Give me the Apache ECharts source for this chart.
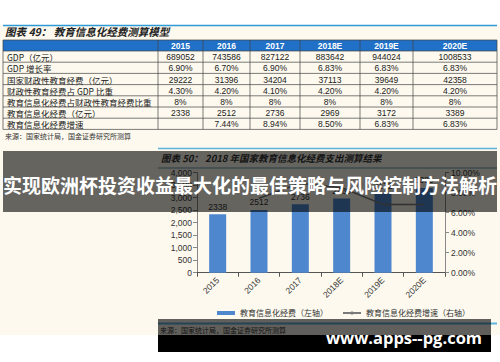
<!DOCTYPE html>
<html><head><meta charset="utf-8">
<script src="https://cdn.jsdelivr.net/npm/echarts@6/dist/echarts.min.js"></script>
<style>html,body{margin:0;padding:0;background:#fff}#c{width:500px;height:362px}</style>
</head><body><div id="c"></div>
<script>
// ---- data ----
const years = ['2015', '2016', '2017', '2018E', '2019E', '2020E'];
const rowLabels = ['GDP（亿元）', 'GDP 增长率', '国家财政性教育经费（亿元）', '财政性教育经费占 GDP 比重', '教育信息化经费占财政性教育经费比重', '教育信息化经费（亿元）', '教育信息化经费增速'];
const gdp = ['689052', '743586', '827122', '883642', '944024', '1008533'];
const gdpGrowth = ['6.90%', '6.70%', '6.90%', '6.83%', '6.83%', '6.83%'];
const eduFunding = ['29222', '31396', '34204', '37113', '39649', '42358'];
const eduShareGdp = ['4.30%', '4.20%', '4.10%', '4.20%', '4.20%', '4.20%'];
const itShareEdu = ['8%', '8%', '8%', '8%', '8%', '8%'];
const itFundingText = ['2338', '2512', '2736', '2969', '3172', '3389'];
const itGrowthText = ['', '7.44%', '8.94%', '8.50%', '6.83%', '6.83%'];
// chart series
const itFunding = [2338, 2512, 2736, 2969, 3172, 3389];
const itGrowth = [null, 7.44, 8.94, 8.50, 6.83, 6.83];
const leftTicks = [0, 4000, 500];
const rightTicks = [0, 10, 2];
const title1 = '图表 49： 教育信息化经费测算模型';
const title2 = '图表 50： 2018 年国家教育信息化经费支出测算结果';
const source = '来源：国家统计局，国金证券研究所测算';
const legendNames = ['教育信息化经费（左轴）', '教育信息化经费增速（右轴）'];
const bannerText = '实现欧洲杯投资收益最大化的最佳策略与风险控制方法解析';
const watermark = 'www.apps--pg.com';

// ---- layout ----
const CJK = '"Noto Sans CJK SC", sans-serif';
const NUM = '"Liberation Sans", Arial, sans-serif';
const colX = [3, 158, 203, 250, 300, 360, 413, 497];
const rowY = [40, 51, 62.2, 73.4, 84.6, 95.8, 107, 118.2, 129.4];
const tableRows = [gdp, gdpGrowth, eduFunding, eduShareGdp, itShareEdu, itFundingText, itGrowthText];

const g = [];
// white top / bottom strips
g.push({type: 'rect', shape: {x: 0, y: 0, width: 500, height: 25}, style: {fill: '#fff'}, z: -5});
g.push({type: 'rect', shape: {x: 0, y: 335, width: 500, height: 27}, style: {fill: '#fff'}, z: -5});
// top blue line & title 1
g.push({type: 'line', shape: {x1: 3, y1: 25.5, x2: 497, y2: 25.5}, style: {stroke: '#2f9ad6', lineWidth: 1.5}});
g.push({type: 'text', x: 5, y: 31, style: {text: title1, font: 'italic bold 10.5px ' + CJK, fill: '#222', verticalAlign: 'middle'}});
// table header
g.push({type: 'rect', shape: {x: colX[0], y: rowY[0], width: colX[7] - colX[0], height: rowY[1] - rowY[0]}, style: {fill: '#1f70c6'}});
years.forEach((yname, i) => {
  g.push({type: 'text', x: (colX[i + 1] + colX[i + 2]) / 2, y: (rowY[0] + rowY[1]) / 2 + 0.5,
    style: {text: yname, font: 'bold 8.5px ' + NUM, fill: '#fff', align: 'center', verticalAlign: 'middle'}});
});
rowLabels.forEach((lab, r) => {
  const cy = (rowY[r + 1] + rowY[r + 2]) / 2 + 0.5;
  g.push({type: 'text', x: 7, y: cy, style: {text: lab, font: '8.5px ' + CJK, fill: '#222', verticalAlign: 'middle'}});
  tableRows[r].forEach((v, i) => {
    g.push({type: 'text', x: (colX[i + 1] + colX[i + 2]) / 2, y: cy,
      style: {text: v, font: '8.5px ' + NUM, fill: '#222', align: 'center', verticalAlign: 'middle'}});
  });
});
rowY.forEach(y => g.push({type: 'line', shape: {x1: colX[0], y1: y, x2: colX[7], y2: y}, style: {stroke: '#444', lineWidth: 0.7}}));
colX.forEach(x => g.push({type: 'line', shape: {x1: x, y1: rowY[0], x2: x, y2: rowY[8]}, style: {stroke: '#444', lineWidth: 0.7}}));
g.push({type: 'text', x: 5, y: 135.5, style: {text: source, font: '7px ' + CJK, fill: '#333', verticalAlign: 'middle'}});
// chart 2 frame
g.push({type: 'line', shape: {x1: 158, y1: 148.5, x2: 497, y2: 148.5}, style: {stroke: '#5ab4dc', lineWidth: 1.5}});
g.push({type: 'text', x: 161, y: 157.5, style: {text: title2, font: 'italic bold 9.5px ' + CJK, fill: '#333', verticalAlign: 'middle'}});
g.push({type: 'line', shape: {x1: 158, y1: 168, x2: 497, y2: 168}, style: {stroke: '#5f95ad', lineWidth: 1}});
g.push({type: 'line', shape: {x1: 158, y1: 323.5, x2: 497, y2: 323.5}, style: {stroke: '#5ab4dc', lineWidth: 2}});
g.push({type: 'text', x: 160, y: 330, style: {text: source, font: '7px ' + CJK, fill: '#333', verticalAlign: 'middle'}});
// banner overlay
g.push({type: 'rect', shape: {x: 3, y: 151, width: 494, height: 61}, style: {fill: 'rgba(0,0,0,0.6)'}, z: 100});
g.push({type: 'text', x: 250, y: 184, style: {text: bannerText, font: 'bold 19px ' + CJK, fill: '#fff', align: 'center', verticalAlign: 'middle'}, z: 101});
// watermark
g.push({type: 'rect', shape: {x: 158, y: 319, width: 333, height: 16}, style: {fill: 'rgba(0,0,0,0.62)'}, z: 100});
g.push({type: 'rect', shape: {x: 158, y: 335, width: 333, height: 17}, style: {fill: '#000'}, z: 100});
g.push({type: 'text', x: 404, y: 337, style: {text: watermark, font: 'bold 16.5px "Open Sans", ' + NUM, fill: '#fff', align: 'center', verticalAlign: 'middle'}, z: 101});

const chart = echarts.init(document.getElementById('c'), null, {renderer: 'svg'});
chart.setOption({
  backgroundColor: '#fdf9ee',
  animation: false,
  textStyle: {fontFamily: NUM},
  graphic: {elements: g},
  grid: {left: 197, right: 55, top: 172.7, bottom: 89.3, containLabel: false},
  legend: {
    left: 212, top: 304, itemWidth: 18, itemHeight: 4, itemGap: 14,
    textStyle: {fontSize: 8, color: '#333', fontFamily: CJK},
    data: [{name: legendNames[0], icon: 'rect'}, {name: legendNames[1]}]
  },
  xAxis: {
    type: 'category', data: years,
    axisLine: {lineStyle: {color: '#555', width: 1}},
    axisTick: {show: true, length: 4, lineStyle: {color: '#555'}},
    axisLabel: {rotate: 45, fontSize: 8.5, color: '#333', margin: 6}
  },
  yAxis: [{
    type: 'value', min: leftTicks[0], max: leftTicks[1], interval: leftTicks[2],
    splitLine: {show: false},
    axisLine: {show: true, lineStyle: {color: '#888'}},
    axisTick: {show: true, length: 4, lineStyle: {color: '#888'}},
    axisLabel: {fontSize: 8.5, color: '#333', margin: 5}
  }, {
    type: 'value', min: rightTicks[0], max: rightTicks[1], interval: rightTicks[2],
    splitLine: {show: false},
    axisLine: {show: true, lineStyle: {color: '#888'}},
    axisTick: {show: true, length: 4, lineStyle: {color: '#888'}},
    axisLabel: {fontSize: 8.5, color: '#333', margin: 6, formatter: v => v.toFixed(2) + '%'}
  }],
  series: [{
    name: legendNames[0], type: 'bar', data: itFunding, barWidth: 17,
    itemStyle: {color: '#4f87cf'},
    label: {show: true, position: 'top', distance: 3, fontSize: 8.5, color: '#333'}
  }, {
    name: legendNames[1], type: 'line', yAxisIndex: 1, symbol: 'none',
    data: itGrowth.map((v, i) => {
      if (v === null) return null;
      const o = {value: v};
      if (i === 4) o.label = {position: 'inside', offset: [-1, 2]};
      if (i === 5) o.label = {position: 'inside', offset: [-3, -3]};
      return o;
    }),
    lineStyle: {color: '#7a7a7a', width: 1.5},
    itemStyle: {color: '#7a7a7a'},
    label: {show: true, position: 'top', fontSize: 8.5, color: '#333', formatter: p => p.value.toFixed(2) + '%'}
  }]
});
</script></body></html>
